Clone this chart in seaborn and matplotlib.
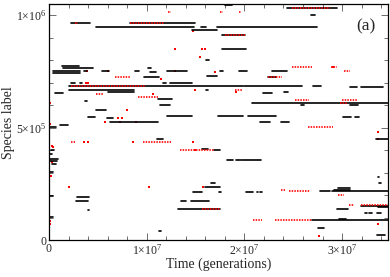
import numpy as np
import pandas as pd
import seaborn as sns
import matplotlib
matplotlib.use("Agg")
import matplotlib.pyplot as plt
from matplotlib.ticker import FixedLocator, MultipleLocator

# ---------------- data ----------------
# black lifetimes of species: label, birth time, extinction time
seg_label = [1044e3, 1031e3, 1000e3, 964e3, 964e3, 947e3, 947e3, 947e3, 933e3, 911e3,
             849e3, 800e3, 774e3, 765e3, 751e3, 742e3, 751e3, 751e3, 751e3, 751e3,
             751e3, 751e3, 751e3, 765e3, 747e3, 725e3, 729e3, 725e3, 698e3, 698e3,
             698e3, 698e3, 685e3, 685e3, 685e3, 680e3, 680e3, 667e3, 658e3, 654e3,
             667e3, 654e3, 658e3, 627e3, 618e3, 609e3, 600e3, 600e3, 600e3, 578e3,
             547e3, 543e3, 552e3, 552e3, 552e3, 547e3, 547e3, 525e3, 525e3, 525e3,
             512e3, 503e3, 450e3, 450e3, 405e3, 401e3, 401e3, 383e3, 361e3, 352e3,
             339e3, 356e3, 356e3, 356e3, 303e3, 281e3, 254e3, 254e3, 237e3, 232e3,
             223e3, 219e3, 219e3, 214e3, 214e3, 214e3, 214e3, 214e3, 197e3, 192e3,
             174e3, 174e3, 174e3, 148e3, 152e3, 139e3, 139e3, 134e3, 121e3, 121e3,
             121e3, 103e3, 95e3, 90e3, 55e3, 41e3, 24e3]
seg_start = [18.01e6, 24.36e6, 26.82e6, 2.25e6, 8.29e6, 4.81e6, 15.56e6, 17.19e6, 14.64e6, 17.71e6,
             17.71e6, 16.07e6, 1.33e6, 1.43e6, 0.41e6, 0.41e6, 3.58e6, 5.42e6, 8.80e6, 12.08e6,
             17.50e6, 19.45e6, 22.82e6, 10.13e6, 10.34e6, 9.72e6, 16.17e6, 22.41e6, 2.25e6, 3.17e6,
             11.67e6, 12.38e6, 2.05e6, 19.96e6, 27.02e6, 30.81e6, 31.93e6, 2.05e6, 6.04e6, 0.61e6,
             16.07e6, 21.90e6, 24.05e6, 11.16e6, 3.68e6, 20.78e6, 11.36e6, 25.79e6, 30.81e6, 4.81e6,
             3.99e6, 5.94e6, 12.08e6, 17.30e6, 20.37e6, 30.09e6, 31.32e6, 6.24e6, 21.60e6, 23.75e6,
             1.13e6, 0.10e6, 11.05e6, 33.47e6, 15.66e6, 0.20e6, 16.89e6, 0.10e6, 0.10e6, 0.00e6,
             0.31e6, 18.22e6, 19.14e6, 19.75e6, 0.10e6, 33.67e6, 16.58e6, 33.78e6, 15.97e6, 29.58e6,
             29.17e6, 27.74e6, 28.97e6, 14.74e6, 17.40e6, 20.16e6, 21.29e6, 21.60e6, 0.00e6, 2.87e6,
             2.76e6, 13.51e6, 14.53e6, 33.67e6, 31.93e6, 13.20e6, 29.48e6, 3.99e6, 32.34e6, 32.75e6,
             33.57e6, 0.00e6, 29.68e6, 26.92e6, 27.53e6, 11.26e6, 33.57e6]
seg_end = [18.73e6, 29.48e6, 27.23e6, 4.20e6, 14.94e6, 14.84e6, 16.07e6, 27.43e6, 17.19e6, 20.06e6,
           20.16e6, 16.38e6, 3.07e6, 4.50e6, 3.17e6, 3.17e6, 3.89e6, 6.14e6, 9.21e6, 14.12e6,
           17.81e6, 20.27e6, 24.36e6, 10.44e6, 10.95e6, 11.26e6, 17.19e6, 23.23e6, 2.66e6, 3.38e6,
           11.97e6, 14.64e6, 19.86e6, 25.89e6, 27.84e6, 31.52e6, 34.18e6, 8.70e6, 8.70e6, 1.43e6,
           16.27e6, 22.82e6, 24.46e6, 12.59e6, 3.89e6, 34.70e6, 12.38e6, 26.10e6, 31.63e6, 5.83e6,
           4.71e6, 6.55e6, 14.64e6, 19.86e6, 23.23e6, 30.91e6, 31.73e6, 11.16e6, 22.62e6, 24.56e6,
           1.94e6, 0.72e6, 11.67e6, 34.70e6, 16.27e6, 0.51e6, 17.50e6, 0.31e6, 0.92e6, 0.82e6,
           0.72e6, 18.83e6, 19.65e6, 21.70e6, 0.41e6, 33.78e6, 16.99e6, 33.98e6, 17.50e6, 30.81e6,
           30.81e6, 28.76e6, 34.70e6, 15.66e6, 17.60e6, 20.88e6, 21.39e6, 21.80e6, 0.41e6, 4.09e6,
           3.99e6, 14.02e6, 16.38e6, 34.70e6, 34.70e6, 17.50e6, 30.60e6, 4.09e6, 32.55e6, 33.06e6,
           33.98e6, 0.41e6, 30.40e6, 34.70e6, 28.15e6, 11.46e6, 34.39e6]

# red (highlighted) stretches: label, start, end
red_label = [1031e3, 964e3, 964e3, 725e3, 685e3, 636e3, 649e3, 911e3, 769e3, 769e3,
             751e3, 725e3, 667e3, 623e3, 623e3, 504e3, 436e3, 436e3, 399e3, 219e3,
             223e3, 201e3, 157e3, 157e3, 90e3, 90e3, 139e3, 1013e3, 1013e3, 1013e3, 609e3]
red_start = [24.87e6, 8.29e6, 2.66e6, 6.76e6, 2.25e6, 9.11e6, 4.81e6, 18.01e6, 24.87e6, 28.86e6,
             30.19e6, 22.41e6, 19.04e6, 25.18e6, 29.99e6, 26.51e6, 9.62e6, 2.25e6, 13.41e6, 24.56e6,
             23.75e6, 29.58e6, 30.71e6, 31.93e6, 20.88e6, 23.13e6, 15.66e6, 12.18e6, 17.50e6, 19.45e6, 29.78e6]
red_end = [28.76e6, 11.77e6, 2.97e6, 8.39e6, 9.83e6, 11.16e6, 5.53e6, 20.06e6, 26.92e6, 29.48e6,
           30.81e6, 23.85e6, 19.86e6, 26.61e6, 31.63e6, 29.07e6, 12.49e6, 2.66e6, 16.89e6, 26.71e6,
           24.15e6, 30.19e6, 31.22e6, 34.70e6, 21.80e6, 26.92e6, 17.50e6, 12.49e6, 17.81e6, 19.65e6, 30.60e6]

# isolated red points: label, time
dot_label = [929e3, 849e3, 849e3, 849e3, 813e3, 751e3, 751e3, 751e3, 747e3, 716e3,
             698e3, 698e3, 667e3, 658e3, 649e3, 609e3, 578e3, 543e3, 543e3, 525e3,
             525e3, 525e3, 516e3, 436e3, 436e3, 436e3, 436e3, 419e3, 414e3, 347e3,
             285e3, 237e3, 237e3, 237e3, 86e3, 72e3, 72e3, 19e3, 450e3, 481e3, 401e3, 769e3]
dot_time = [14.74e6, 12.90e6, 15.66e6, 15.97e6, 15.45e6, 3.89e6, 6.04e6, 12.90e6, 17.00e6, 11.46e6,
            3.79e6, 3.99e6, 14.94e6, 19.14e6, 10.64e6, 0.10e6, 7.98e6, 7.06e6, 7.47e6, 5.73e6,
            7.27e6, 8.90e6, 0.10e6, 3.58e6, 3.99e6, 8.60e6, 14.74e6, 0.31e6, 0.41e6, 0.31e6,
            0.20e6, 2.05e6, 10.24e6, 15.76e6, 0.10e6, 0.10e6, 33.67e6, 27.63e6, 33.67e6, 33.67e6, 14.94e6, 29.07e6]

x_ticks = [0, 1e7, 2e7, 3e7]
x_ticklabels = ["0", "1×10$^{7}$", "2×10$^{7}$", "3×10$^{7}$"]
y_ticks = [0, 5e5, 1e6]
y_ticklabels = ["0", "5×10$^{5}$", "1×10$^{6}$"]

# ---------------- tables ----------------
def long_table(lab, t0, t1):
    rows = []
    for i, (l, a, b) in enumerate(zip(lab, t0, t1)):
        rows.append((i, a, l))
        rows.append((i, b, l))
    return pd.DataFrame(rows, columns=["seg", "time", "label"])

black_df = long_table(seg_label, seg_start, seg_end)
red_df = long_table(red_label, red_start, red_end)
dots_df = pd.DataFrame({"time": dot_time, "label": dot_label})

# ---------------- style ----------------
sns.set_style("ticks")
plt.rcParams["font.family"] = ["Liberation Serif", "DejaVu Serif"]
plt.rcParams["mathtext.fontset"] = "custom"
plt.rcParams["mathtext.rm"] = "Liberation Serif"
plt.rcParams["mathtext.it"] = "Liberation Serif:italic"

fig = plt.figure(figsize=(3.9, 2.77), dpi=100)
ax = fig.add_axes([49 / 390, 1 - 240.3 / 277, (388 - 49) / 390, (240.3 - 4) / 277])

sns.lineplot(data=black_df, x="time", y="label", units="seg", estimator=None,
             sort=False, color="black", lw=1.2, ax=ax, legend=False)
sns.lineplot(data=red_df, x="time", y="label", units="seg", estimator=None,
             sort=False, color="#ff0000", lw=1.2, ax=ax, legend=False,
             dashes=False, linestyle=(0, (0.9, 0.7)))
sns.scatterplot(data=dots_df, x="time", y="label", color="#ff0000", marker="s",
                s=3, linewidth=0, ax=ax, legend=False)

ax.set_xlim(0, 34.7e6)
ax.set_ylim(0, 1.049e6)
ax.xaxis.set_major_locator(FixedLocator(x_ticks))
ax.set_xticklabels(x_ticklabels)
ax.yaxis.set_major_locator(FixedLocator(y_ticks))
ax.set_yticklabels(y_ticklabels)
ax.xaxis.set_minor_locator(MultipleLocator(2e6))
ax.yaxis.set_minor_locator(MultipleLocator(1e5))
ax.tick_params(which="both", direction="in", top=True, right=True,
               labelsize=8.5, width=0.6, color="#555555", pad=2)
ax.tick_params(which="major", length=5)
ax.tick_params(which="minor", length=3)
for s in ax.spines.values():
    s.set_linewidth(0.9)
    s.set_color("black")

ax.set_xlabel("Time (generations)", fontsize=10, labelpad=0)
ax.set_ylabel("Species label", fontsize=10, labelpad=1)
ax.text(0.935, 0.905, "(a)", transform=ax.transAxes, fontsize=12.5,
        ha="center", va="center")

fig.savefig("out.png", dpi=100)
